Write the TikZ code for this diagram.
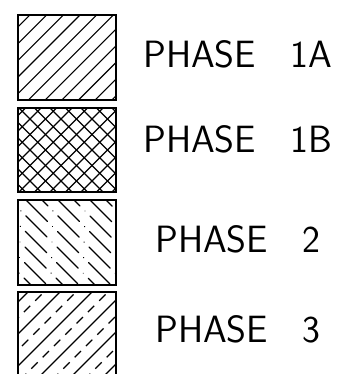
\documentclass[tikz,border=0pt]{standalone}
\usepackage{fontspec}
\usetikzlibrary{positioning}
\tikzset{
  boxline/.style={draw=black,line width=1.6pt},
  hatch/.style={draw=black,line width=1.1pt},
  legendtext/.style={anchor=base west,inner sep=0pt,
    font=\fontsize{38}{38}\sffamily\addfontfeatures{LetterSpace=12}}
}
\begin{document}
\begin{tikzpicture}[x=1pt,y=-1pt]
\useasboundingbox (0,0) rectangle (342,374);
% phase 1A: single hatch
\begin{scope}
\clip (18,15) rectangle (116,100);
\foreach \c in {-71.8,-55.1,...,120}
  \draw[hatch] (\c,100) -- ++(85,-85);
\end{scope}
\draw[boxline] (18,15) rectangle (116,100);
% phase 1B: cross hatch
\begin{scope}
\clip (18,108) rectangle (116,192);
\foreach \c in {-74,-58.5,...,120}{
  \draw[hatch] (\c,192) -- ++(84,-84);
  \draw[hatch] (\c,108) -- ++(84,84);}
\end{scope}
\draw[boxline] (18,108) rectangle (116,192);
% phase 2: dash dot
\begin{scope}
\clip (18,200) rectangle (116,285);
\foreach \c [count=\i] in {-86,-70,...,120}
  \draw[hatch,line width=1.2pt,line cap=round,
    dash pattern=on 30pt off 7pt on 0.1pt off 7pt,
    dash phase=\i*22pt] (\c,200) -- ++(85,85);
\end{scope}
\draw[boxline] (18,200) rectangle (116,285);
% phase 3: solid and dashed
\begin{scope}
\clip (18,292) rectangle (116,380);
\foreach \c in {-92,-60,...,120}{
  \draw[hatch] (\c,380) -- ++(88,-88);
  \draw[hatch,dash pattern=on 9pt off 7pt] (\c+16,380) -- ++(88,-88);}
\end{scope}
\draw[boxline] (18,380) -- (18,292) -- (116,292) -- (116,380);
% labels
\node[legendtext] (t1a) at (143,68) {PHASE\hspace{0.9em}1A};
\node[legendtext] (t1b) at (143,153) {PHASE\hspace{0.9em}1B};
\node[legendtext] (t2) at (155,252) {PHASE\hspace{0.9em}2};
\node[legendtext] (t3) at (155,342) {PHASE\hspace{0.9em}3};
\end{tikzpicture}
\end{document}
